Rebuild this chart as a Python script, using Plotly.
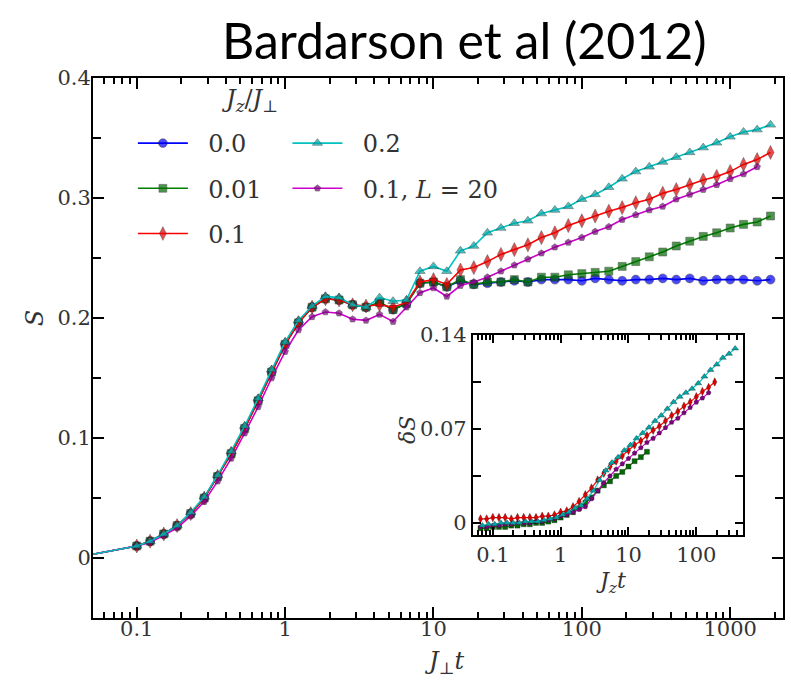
import plotly.graph_objects as go

# ---------------- data ----------------
# time grid J_perp t (first point only carries the line to the frame edge)
T = [0.05, 0.1, 0.123, 0.152, 0.187, 0.231, 0.285, 0.351, 0.433, 0.534, 0.658,
     0.811, 1.0, 1.23, 1.52, 1.87, 2.31, 2.85, 3.51, 4.33, 5.34,
     6.58, 8.11, 10.0, 12.3, 15.2, 18.7, 23.1, 28.5, 35.1, 43.3,
     53.4, 65.8, 81.1, 100.0, 123.0, 152.0, 187.0, 231.0, 285.0, 351.0,
     433.0, 534.0, 658.0, 811.0, 1000.0, 1230.0, 1520.0, 1870.0]

S_00 = [0.003, 0.010, 0.014, 0.020, 0.027, 0.037, 0.050, 0.068, 0.087, 0.108, 0.131,
        0.155, 0.178, 0.196, 0.209, 0.216, 0.215, 0.211, 0.209, 0.213, 0.207,
        0.212, 0.229, 0.230, 0.226, 0.231, 0.228, 0.229, 0.230, 0.231, 0.230,
        0.232, 0.232, 0.232, 0.231, 0.233, 0.232, 0.231, 0.232, 0.232, 0.233,
        0.232, 0.233, 0.231, 0.232, 0.232, 0.232, 0.231, 0.232]
S_001 = [0.003, 0.010, 0.014, 0.020, 0.027, 0.037, 0.050, 0.068, 0.087, 0.108, 0.131,
         0.155, 0.178, 0.196, 0.209, 0.216, 0.215, 0.211, 0.209, 0.213, 0.207,
         0.212, 0.229, 0.230, 0.226, 0.232, 0.228, 0.230, 0.230, 0.232, 0.230,
         0.234, 0.234, 0.236, 0.237, 0.238, 0.239, 0.243, 0.247, 0.251, 0.255,
         0.260, 0.264, 0.268, 0.271, 0.275, 0.278, 0.280, 0.285]
S_01 = [0.003, 0.010, 0.014, 0.020, 0.027, 0.037, 0.050, 0.068, 0.087, 0.108, 0.131,
        0.155, 0.178, 0.196, 0.209, 0.216, 0.215, 0.211, 0.210, 0.211, 0.209,
        0.213, 0.230, 0.232, 0.228, 0.240, 0.242, 0.247, 0.253, 0.257, 0.261,
        0.267, 0.271, 0.277, 0.281, 0.285, 0.289, 0.292, 0.296, 0.299, 0.304,
        0.307, 0.311, 0.315, 0.318, 0.322, 0.328, 0.332, 0.338]
S_02 = [0.003, 0.010, 0.014, 0.020, 0.027, 0.038, 0.051, 0.069, 0.089, 0.110, 0.133,
        0.157, 0.180, 0.198, 0.210, 0.218, 0.217, 0.211, 0.209, 0.217, 0.214,
        0.215, 0.239, 0.243, 0.239, 0.256, 0.260, 0.271, 0.275, 0.279, 0.281,
        0.287, 0.290, 0.293, 0.299, 0.303, 0.309, 0.316, 0.322, 0.326, 0.330,
        0.334, 0.338, 0.342, 0.346, 0.351, 0.355, 0.357, 0.361]
S_01_L20 = [0.003, 0.010, 0.013, 0.019, 0.025, 0.035, 0.047, 0.064, 0.083, 0.104, 0.126,
            0.150, 0.172, 0.190, 0.201, 0.205, 0.204, 0.199, 0.198, 0.203, 0.197,
            0.209, 0.221, 0.225, 0.218, 0.227, 0.230, 0.234, 0.239, 0.244, 0.249,
            0.254, 0.259, 0.263, 0.267, 0.272, 0.276, 0.282, 0.286, 0.290, 0.293,
            0.299, 0.303, 0.307, 0.311, 0.316, 0.320, 0.326]

# inset: delta S versus J_z t (J_z t = coupling * J_perp t)
JZ = {"0.01": 0.01, "0.1": 0.1, "0.2": 0.2, "L20": 0.1}
DS_002 = [-0.002, -0.001, -0.001, 0.000, 0.000, 0.000, 0.000, 0.001, 0.001, 0.001,
          0.002, 0.003, 0.004, 0.006, 0.008, 0.011, 0.013, 0.018, 0.024, 0.032,
          0.039, 0.045, 0.049, 0.054, 0.058, 0.063, 0.067, 0.071, 0.076, 0.080,
          0.085, 0.090, 0.094, 0.097, 0.100, 0.104, 0.109, 0.114, 0.118, 0.123,
          0.126, 0.130]                       # T[7:49]
DS_01 = [0.003, 0.003, 0.004, 0.004, 0.004, 0.003, 0.004, 0.004, 0.004, 0.004,
         0.005, 0.005, 0.006, 0.008, 0.009, 0.012, 0.016, 0.021, 0.026, 0.032,
         0.037, 0.042, 0.046, 0.050, 0.054, 0.058, 0.061, 0.065, 0.069, 0.072,
         0.076, 0.080, 0.083, 0.087, 0.090, 0.094, 0.098, 0.101, 0.105]   # T[10:49]
DS_01_L20 = [-0.003, -0.003, -0.002, -0.002, -0.001, -0.001, 0.000, 0.000, 0.000, 0.001,
             0.001, 0.002, 0.003, 0.005, 0.006, 0.008, 0.010, 0.012, 0.018, 0.024,
             0.030, 0.035, 0.040, 0.044, 0.048, 0.052, 0.056, 0.060, 0.063, 0.067,
             0.071, 0.075, 0.078, 0.082, 0.086, 0.090, 0.093, 0.097]          # T[10:48]
DS_001 = [-0.004, -0.004, -0.003, -0.003, -0.003, -0.002, -0.002, -0.001, -0.001, 0.000,
          0.000, 0.001, 0.002, 0.004, 0.006, 0.008, 0.011, 0.015, 0.019, 0.024,
          0.028, 0.031, 0.035, 0.038, 0.042, 0.046, 0.049, 0.053]         # T[21:49]

X_TICKS = [0.1, 1, 10, 100, 1000]
X_TICK_TEXT = ["0.1", "1", "10", "100", "1000"]
Y_TICKS = [0, 0.1, 0.2, 0.3, 0.4]
Y_TICK_TEXT = ["0", "0.1", "0.2", "0.3", "0.4"]
Y_MINOR = [-0.05, 0.05, 0.15, 0.25, 0.35]
IX_TICKS = [0.1, 1, 10, 100]
IX_TICK_TEXT = ["0.1", "1", "10", "100"]
IY_TICKS = [0, 0.035, 0.07, 0.105, 0.14]
IY_TICK_TEXT = ["0", "", "0.07", "", "0.14"]
DECADES = [0.01, 0.1, 1, 10, 100, 1000]
MINOR_DIGITS = [2, 3, 4, 5, 6, 7, 8, 9]

# ---------------- figure ----------------
W, H = 791, 681
ML, MR, MT, MB = 93, 6, 78, 63
PW, PH = W - ML - MR, H - MT - MB


def px(x):
    return (x - ML) / PW


def py(y):
    return (H - MB - y) / PH


log_minor = [d * m for d in DECADES for m in MINOR_DIGITS]

SERIF = "DejaVu Serif"
EDGE = dict(color="rgba(20,20,20,0.75)", width=0.7)
NB = "\u00a0\u00a0"

styles = [
    # name, data, line color, marker color, symbol, size, legend, rank
    ("0.0", S_00, "#0000ff", "#0000ee", "circle", 9, "legend", 1),
    ("0.01", S_001, "#008000", "#006a00", "square", 8, "legend", 2),
    ("0.1", S_01, "#ff0000", "#e00000", "diamond-tall", 10, "legend", 3),
    ("0.1, <i>L</i> = 20", S_01_L20, "#cc00cc", "#800080", "pentagon", 7, "legend2", 5),
    ("0.2", S_02, "#00c0c0", "#00a8a8", "triangle-up", 9, "legend2", 4),
]

fig = go.Figure()
for name, s, lc, mc, sym, sz, leg, rank in styles:
    n = len(s)
    sizes = [0] + [sz] * (n - 1)
    fig.add_trace(go.Scatter(
        x=T[:n], y=s, mode="lines+markers", name=NB + name,
        line=dict(color=lc, width=1.6),
        marker=dict(color=mc, symbol=sym, size=sizes, line=EDGE),
        legend=leg, legendrank=rank, legendgroup=name,
        xaxis="x", yaxis="y",
    ))

# inset traces
inset = [
    ([t * JZ["0.01"] for t in T[21:49]], DS_001, "#008000", "#006a00", "square", 5),
    ([t * JZ["0.1"] for t in T[10:49]], DS_01, "#ff0000", "#e00000", "diamond-tall", 6),
    ([t * JZ["L20"] for t in T[10:48]], DS_01_L20, "#cc00cc", "#800080", "pentagon", 5),
    ([t * JZ["0.2"] for t in T[7:49]], DS_002, "#00c0c0", "#00a8a8", "triangle-up", 6),
]
for xs, ys, lc, mc, sym, sz in inset:
    fig.add_trace(go.Scatter(
        x=xs, y=ys, mode="lines+markers", showlegend=False,
        line=dict(color=lc, width=1.2),
        marker=dict(color=mc, symbol=sym, size=sz, line=dict(color="rgba(20,20,20,0.7)", width=0.5)),
        xaxis="x2", yaxis="y2",
    ))

# empty carriers so the minor-tick overlay axes are drawn
for xa, ya in (("x3", "y3"), ("x4", "y4")):
    fig.add_trace(go.Scatter(x=[], y=[], xaxis=xa, yaxis=ya, showlegend=False,
                             hoverinfo="skip", mode="lines"))

axis_common = dict(
    showline=True, linecolor="black", linewidth=2, mirror="allticks",
    ticks="inside", tickcolor="black", tickwidth=2, showgrid=False, zeroline=False,
    tickfont=dict(family=SERIF, size=21, color="#333"),
)
minor_common = dict(
    showline=False, mirror="allticks", ticks="inside", tickcolor="black", tickwidth=1.6,
    showgrid=False, zeroline=False, showticklabels=False, tickmode="array",
)

MAIN_X_RANGE = [-1.295, 3.356]
MAIN_Y_RANGE = [-0.05, 0.4]
INSET_X_RANGE = [-1.294, 2.69]
INSET_Y_RANGE = [-0.009, 0.14]
INSET_XDOM = [px(474), px(745)]
INSET_YDOM = [py(535), py(335)]

fig.update_layout(
    width=W, height=H,
    margin=dict(l=ML, r=MR, t=MT, b=MB, pad=0),
    paper_bgcolor="white", plot_bgcolor="white",
    xaxis=dict(type="log", range=MAIN_X_RANGE, tickmode="array",
               tickvals=X_TICKS, ticktext=X_TICK_TEXT, ticklen=11, ticklabelstandoff=-9,
               **axis_common),
    yaxis=dict(range=MAIN_Y_RANGE, tickmode="array", tickvals=Y_TICKS,
               ticktext=Y_TICK_TEXT, ticklen=11, ticklabelstandoff=-4,
               **axis_common),
    xaxis2=dict(type="log", range=INSET_X_RANGE, domain=INSET_XDOM, anchor="y2",
                tickmode="array", tickvals=IX_TICKS, ticktext=IX_TICK_TEXT, ticklen=8,
                **axis_common),
    yaxis2=dict(range=INSET_Y_RANGE, domain=INSET_YDOM, anchor="x2",
                tickmode="array", tickvals=IY_TICKS, ticktext=IY_TICK_TEXT, ticklen=8,
                **axis_common),
    # overlay axes carrying only the minor ticks
    xaxis3=dict(type="log", range=MAIN_X_RANGE, overlaying="x", anchor="y3",
                tickvals=log_minor, ticklen=6, **minor_common),
    yaxis3=dict(range=MAIN_Y_RANGE, overlaying="y", anchor="x3",
                tickvals=Y_MINOR, ticklen=8, **minor_common),
    xaxis4=dict(type="log", range=INSET_X_RANGE, overlaying="x2", anchor="y4",
                tickvals=log_minor, ticklen=5, **minor_common),
    yaxis4=dict(range=INSET_Y_RANGE, overlaying="y2", anchor="x4",
                tickvals=[], ticklen=0, **minor_common),
    legend=dict(x=px(133), y=py(121), xanchor="left", yanchor="top",
                font=dict(family=SERIF, size=24, color="#333"), bgcolor="rgba(0,0,0,0)",
                itemwidth=50, tracegroupgap=11),
    legend2=dict(x=px(288), y=py(121), xanchor="left", yanchor="top",
                 font=dict(family=SERIF, size=24, color="#333"), bgcolor="rgba(0,0,0,0)",
                 itemwidth=50, tracegroupgap=11),
    showlegend=True,
)

ann = [
    dict(text="Bardarson et al (2012)", x=px(466), y=py(40), font=dict(family="Lato", size=50, color="black")),
    dict(text="<i>J<sub>z</sub></i>/<i>J</i><sub>⊥</sub>", x=px(250), y=py(100),
         font=dict(family=SERIF, size=24, color="#333")),
    dict(text="<i>J</i><sub>⊥</sub><i>t</i>", x=px(445), y=py(662),
         font=dict(family=SERIF, size=24, color="#333")),
    dict(text="<i>S</i>", x=px(35), y=py(318), textangle=-90,
         font=dict(family=SERIF, size=24, color="#333")),
    dict(text="<i>J<sub>z</sub>t</i>", x=px(612), y=py(582),
         font=dict(family=SERIF, size=22, color="#333")),
    dict(text="<i>δS</i>", x=px(408), y=py(430), textangle=-90,
         font=dict(family=SERIF, size=22, color="#333")),
]
for a in ann:
    fig.add_annotation(xref="paper", yref="paper", showarrow=False,
                       xanchor="center", yanchor="middle", **a)

fig.write_html("out.html")
